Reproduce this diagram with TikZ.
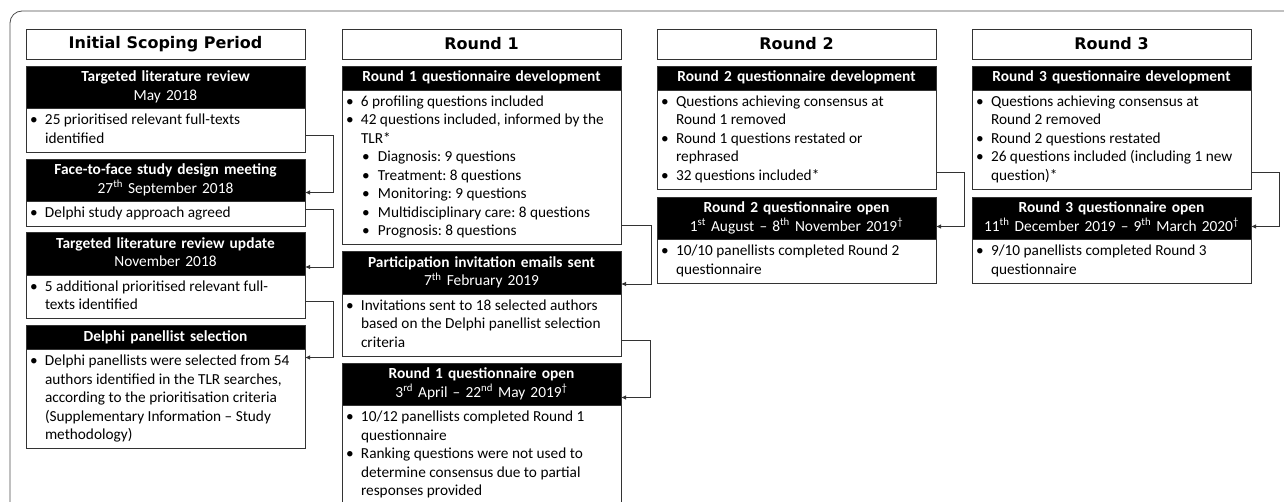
\documentclass[tikz,border=0pt]{standalone}
\usepackage{fontspec}
\setmainfont{Carlito}
\newfontfamily\colfont{DejaVu Sans}
\usetikzlibrary{positioning,arrows.meta}
\frenchspacing
\newcommand{\bul}[1]{\noindent\hangindent=17pt\hangafter=1\hspace*{2pt}\makebox[15pt][l]{\textbullet}\strut#1\strut\par}
\newcommand{\sbul}[1]{\noindent\hangindent=34pt\hangafter=1\hspace*{18pt}\makebox[16pt][l]{\textbullet}\strut#1\strut\par}
\tikzset{x=1pt, y=1pt,
    colhead/.style={draw=black!80, line width=0.9pt, fill=white, outer sep=0pt,
        minimum width=279pt, minimum height=30pt, inner sep=0pt,
        font=\colfont\bfseries\fontsize{16}{19}\selectfont},
    head/.style={draw=black!80, line width=0.9pt, fill=black, text=white, outer sep=0pt,
        text width=275pt, inner xsep=2pt, inner ysep=2.75pt, align=center,
        font=\fontsize{15.4}{18.5}\selectfont},
    body/.style={draw=black!80, line width=0.9pt, fill=white, outer sep=0pt,
        text width=275pt, inner xsep=2pt, inner ysep=3.25pt, align=flush left,
        font=\fontsize{15.3}{18.5}\selectfont},
    link/.style={draw=black!80, line width=0.8pt, -{Latex[length=5pt,width=4.5pt]}},
    }
\begin{document}
\begin{tikzpicture}
\clip (0,0) rectangle (1284,-502);
\draw[black!70, line width=0.8pt, rounded corners=12pt] (10,-560) -- (10,-11) -- (1340,-11);
% Initial scoping period
\node[colhead, anchor=north west] (scope) at (26,-29) {Initial Scoping Period};
\node[head, below=7pt of scope] (tlr) {\strut\textbf{Targeted literature review}\\May 2018\strut};
\node[body, below=0pt of tlr] (tlrb) {\bul{25 prioritised relevant full-texts\newline identified}};
\node[head, below=7pt of tlrb] (ftf) {\strut\textbf{Face-to-face study design meeting}\\27\textsuperscript{th} September 2018\strut};
\node[body, below=0pt of ftf] (ftfb) {\bul{Delphi study approach agreed}};
\node[head, below=6pt of ftfb] (upd) {\strut\textbf{Targeted literature review update}\\November 2018\strut};
\node[body, below=0pt of upd] (updb) {\bul{5 additional prioritised relevant full-\newline texts identified}};
\node[head, below=7pt of updb] (sel) {\strut\textbf{Delphi panellist selection}\strut};
\node[body, below=0pt of sel] (selb) {\bul{Delphi panellists were selected from 54\newline authors identified in the TLR searches,\newline according to the prioritisation criteria\newline (Supplementary Information – Study\newline methodology)}};
% Round 1
\node[colhead, anchor=north west] (r1) at (342,-29) {Round 1};
\node[head, below=7pt of r1] (r1dev) {\strut\textbf{Round 1 questionnaire development}\strut};
\node[body, below=0pt of r1dev] (r1devb) {\bul{6 profiling questions included}
    \bul{42 questions included, informed by the\newline TLR*}
    \sbul{Diagnosis: 9 questions}
    \sbul{Treatment: 8 questions}
    \sbul{Monitoring: 9 questions}
    \sbul{Multidisciplinary care: 8 questions}
    \sbul{Prognosis: 8 questions}};
\node[head, below=7pt of r1devb] (inv) {\strut\textbf{Participation invitation emails sent}\\7\textsuperscript{th} February 2019\strut};
\node[body, below=0pt of inv] (invb) {\bul{Invitations sent to 18 selected authors\newline based on the Delphi panellist selection\newline criteria}};
\node[head, below=7pt of invb] (r1open) {\strut\textbf{Round 1 questionnaire open}\\3\textsuperscript{rd} April – 22\textsuperscript{nd} May 2019\textsuperscript{\textdagger}\strut};
\node[body, below=0pt of r1open] (r1openb) {\bul{10/12 panellists completed Round 1\newline questionnaire}
    \bul{Ranking questions were not used to\newline determine consensus due to partial\newline responses provided}};
% Round 2
\node[colhead, anchor=north west] (r2) at (657,-29) {Round 2};
\node[head, below=7pt of r2] (r2dev) {\strut\textbf{Round 2 questionnaire development}\strut};
\node[body, below=0pt of r2dev] (r2devb) {\bul{Questions achieving consensus at\newline Round 1 removed}
    \bul{Round 1 questions restated or\newline rephrased}
    \bul{32 questions included*}};
\node[head, below=8pt of r2devb] (r2open) {\strut\textbf{Round 2 questionnaire open}\\1\textsuperscript{st} August – 8\textsuperscript{th} November 2019\textsuperscript{\textdagger}\strut};
\node[body, below=0pt of r2open] (r2openb) {\bul{10/10 panellists completed Round 2\newline questionnaire}};
% Round 3
\node[colhead, anchor=north west] (r3) at (972,-29) {Round 3};
\node[head, below=7pt of r3] (r3dev) {\strut\textbf{Round 3 questionnaire development}\strut};
\node[body, below=0pt of r3dev] (r3devb) {\bul{Questions achieving consensus at\newline Round 2 removed}
    \bul{Round 2 questions restated}
    \bul{26 questions included (including 1 new\newline question)*}};
\node[head, below=8pt of r3devb] (r3open) {\strut\textbf{Round 3 questionnaire open}\\11\textsuperscript{th} December 2019 – 9\textsuperscript{th} March 2020\textsuperscript{\textdagger}\strut};
\node[body, below=0pt of r3open] (r3openb) {\bul{9/10 panellists completed Round 3\newline questionnaire}};
% links
\draw[link] ([yshift=17pt]tlrb.south east) -- ++(28,0) |- ([yshift=9pt]ftf.south east);
\draw[link] ([yshift=17pt]ftfb.south east) -- ++(28,0) |- ([yshift=8pt]upd.south east);
\draw[link] ([yshift=17pt]updb.south east) -- ++(28,0) |- ([yshift=-8pt]selb.north east);
\draw[link] ([yshift=19pt]r1devb.south east) -- ++(30,0) |- ([yshift=10pt]inv.south east);
\draw[link] ([yshift=16pt]invb.south east) -- ++(29,0) |- ([yshift=8pt]r1open.south east);
\draw[link] ([yshift=17pt]r2devb.south east) -- ++(28,0) |- ([yshift=13pt]r2open.south east);
\draw[link] ([yshift=17pt]r3devb.south east) -- ++(28,0) |- ([yshift=13pt]r3open.south east);
\end{tikzpicture}
\end{document}
